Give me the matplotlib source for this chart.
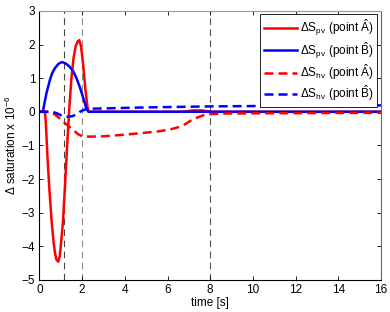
import matplotlib
matplotlib.use("Agg")
import matplotlib.pyplot as plt

# values (time in s, values x 1e-6)
t_pv_a = [0, 0.2, 0.26, 0.3, 0.37, 0.46, 0.57, 0.66, 0.73, 0.8, 0.88, 0.95, 1.0, 1.1,
          1.2, 1.3, 1.39, 1.5, 1.6, 1.7, 1.8, 1.87, 1.95, 2.05, 2.15, 2.25, 2.32,
          6.7, 7.2, 7.6, 8.1, 16]
s_pv_a = [0, 0, 0, -0.3, -1.24, -2.23, -3.23, -3.85, -4.2, -4.4, -4.46, -4.3, -4.0, -3.3,
          -2.2, -1.0, 0.0, 1.0, 1.6, 1.95, 2.1, 2.13, 1.95, 1.4, 0.7, 0.15, 0.0,
          0.0, 0.04, 0.04, 0.0, 0.0]

t_pv_b = [0, 0.16, 0.33, 0.49, 0.6, 0.73, 0.9, 1.07, 1.25, 1.4, 1.59, 1.75, 1.9,
          2.05, 2.2, 2.3, 16]
s_pv_b = [0, 0, 0.55, 0.94, 1.15, 1.3, 1.43, 1.48, 1.43, 1.35, 1.2, 0.98, 0.72,
          0.42, 0.1, 0.0, 0.0]

t_hv_a = [0, 0.5, 0.64, 0.9, 1.2, 1.5, 1.8, 2.0, 2.3, 3.0, 4.0, 5.0, 5.6, 6.1,
          6.5, 6.8, 7.2, 7.7, 8.0, 8.8, 12, 16]
s_hv_a = [0, 0, -0.04, -0.17, -0.34, -0.5, -0.66, -0.73, -0.74, -0.73, -0.68, -0.62,
          -0.58, -0.53, -0.46, -0.38, -0.22, -0.1, -0.07, -0.05, -0.04, -0.03]

t_hv_b = [0, 0.6, 0.8, 1.0, 1.2, 1.35, 1.55, 1.75, 1.9, 2.1, 2.3, 3, 5, 8, 12, 16]
s_hv_b = [0, 0, -0.04, -0.1, -0.14, -0.15, -0.13, -0.07, 0.0, 0.06, 0.09, 0.1,
          0.13, 0.16, 0.18, 0.19]

vlines = [1.15, 2.0, 8.0]
vline_colors = ["#444444", "#8c8c8c", "#555555"]

labels = [r"$\Delta\mathrm{S}_{\mathrm{pv}}$ (point $\hat{\mathrm{A}}$)",
          r"$\Delta\mathrm{S}_{\mathrm{pv}}$ (point $\hat{\mathrm{B}}$)",
          r"$\Delta\mathrm{S}_{\mathrm{hv}}$ (point $\hat{\mathrm{A}}$)",
          r"$\Delta\mathrm{S}_{\mathrm{hv}}$ (point $\hat{\mathrm{B}}$)"]

plt.rcParams['font.family'] = ['Liberation Sans', 'DejaVu Sans']
plt.rcParams['mathtext.fontset'] = 'custom'
plt.rcParams['mathtext.rm'] = 'Liberation Sans'
plt.rcParams['mathtext.it'] = 'Liberation Sans:italic'
plt.rcParams['font.size'] = 8.5

fig = plt.figure(figsize=(3.9, 3.12), dpi=100)
ax = fig.add_axes([0.101, 0.103, 0.876, 0.862])

lw = 1.8
ax.plot(t_pv_a, s_pv_a, color="#ff0000", lw=lw, label=labels[0])
ax.plot(t_pv_b, s_pv_b, color="#0000ff", lw=lw, label=labels[1])
ax.plot(t_hv_a, s_hv_a, color="#ff0000", lw=lw, dashes=(3.6, 2.0), label=labels[2])
ax.plot(t_hv_b, s_hv_b, color="#0000ff", lw=lw, dashes=(3.6, 2.0), label=labels[3])

for x, c in zip(vlines, vline_colors):
    ax.axvline(x, color=c, lw=0.8, dashes=(6, 4), zorder=1)

ax.set_xlim(0, 16)
ax.set_ylim(-5, 3)
ax.set_xticks(range(0, 17, 2))
ax.set_yticks(range(-5, 4))
ax.tick_params(direction="in", top=True, right=True, length=3, width=0.6,
               labelsize=8.5, pad=3)
ax.spines["top"].set_color("#999999")
ax.spines["right"].set_color("#666666")
for s in ax.spines.values():
    s.set_linewidth(0.8)

ax.set_xlabel("time [s]", labelpad=1)
ax.set_ylabel(r"$\Delta$ saturation x 10$^{-6}$", labelpad=2)

leg = ax.legend(loc="upper right", fancybox=False, framealpha=1, edgecolor="black",
                handlelength=2.8, borderpad=0.3, labelspacing=0.15, handletextpad=0.3,
                borderaxespad=0.3, fontsize=8.5)
leg.get_frame().set_linewidth(0.6)

fig.savefig("out.png", dpi=100)
